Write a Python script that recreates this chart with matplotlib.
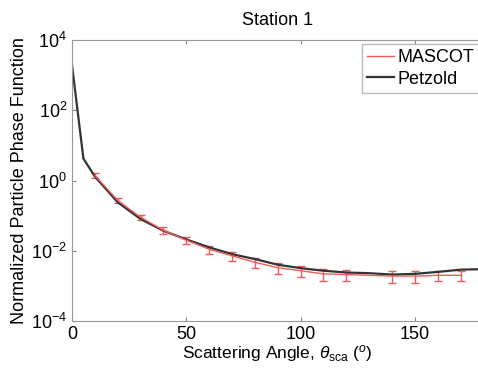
import numpy as np
import matplotlib
matplotlib.use('Agg')
import matplotlib.pyplot as plt
from matplotlib.lines import Line2D

plt.rcParams['font.family'] = ['Liberation Sans', 'DejaVu Sans']
plt.rcParams['mathtext.fontset'] = 'custom'
plt.rcParams['mathtext.rm'] = 'Liberation Sans'
plt.rcParams['mathtext.it'] = 'Liberation Sans:italic'

# Petzold phase function
petzold_angle = [0, 5, 10, 20, 30, 40, 50, 60, 70, 80, 90, 100, 110, 120, 130, 140, 150, 160, 170, 180]
petzold_val = [1950, 4.2, 1.3, 0.24, 0.08, 0.037, 0.021, 0.0125, 0.008, 0.0058, 0.004,
               0.0032, 0.0027, 0.0024, 0.0023, 0.0021, 0.0022, 0.0025, 0.0029, 0.003]

# MASCOT measurements with error bars
mascot_angle = [10, 20, 30, 40, 50, 60, 70, 80, 90, 100, 110, 120, 140, 150, 160, 170]
mascot_val = [1.4, 0.27, 0.09, 0.038, 0.02, 0.011, 0.0072, 0.0047, 0.0033, 0.0027,
              0.0022, 0.0021, 0.0019, 0.0019, 0.002, 0.002]
mascot_err = [0.2, 0.04, 0.015, 0.008, 0.004, 0.003, 0.002, 0.0014, 0.0011, 0.0009,
              0.0008, 0.0007, 0.0007, 0.0007, 0.0006, 0.0006]

red = '#f05a5a'
dark = '#333333'

fig = plt.figure(figsize=(4.78, 3.74), dpi=100)
ax = fig.add_axes([0.1506, 0.1417, 0.861, 0.7513])

ax.errorbar(mascot_angle, mascot_val, yerr=mascot_err, color=red, lw=1.0,
            elinewidth=1.0, capsize=3)
ax.plot(petzold_angle, petzold_val, color=dark, lw=1.6)

ax.set_yscale('log')
ax.set_xlim(0, 180)
ax.set_ylim(1e-4, 1e4)
ax.set_yticks([1e-4, 1e-2, 1e0, 1e2, 1e4])
ax.minorticks_off()
ax.set_xticks([0, 50, 100, 150])
ax.tick_params(direction='in', top=True, right=True, labelsize=13, length=3, color='#888888')
for s in ax.spines.values():
    s.set_color('#999999')

ax.set_title('Station 1', fontsize=13, pad=11)
ax.set_xlabel(r'Scattering Angle, $\theta_{\rm sca}$ ($^o$)', fontsize=12.5, labelpad=0)
ax.set_ylabel('Normalized Particle Phase Function', fontsize=13, labelpad=2)

handles = [Line2D([], [], color=red, lw=1.0), Line2D([], [], color=dark, lw=1.6)]
leg = ax.legend(handles, ['MASCOT', 'Petzold'], loc='upper right', fontsize=13,
                handlelength=1.5, handletextpad=0.2, borderaxespad=0.2, borderpad=0.3,
                labelspacing=0.25, fancybox=False)
leg.get_frame().set_edgecolor('#aaaaaa')

fig.savefig('out.png', dpi=100)
